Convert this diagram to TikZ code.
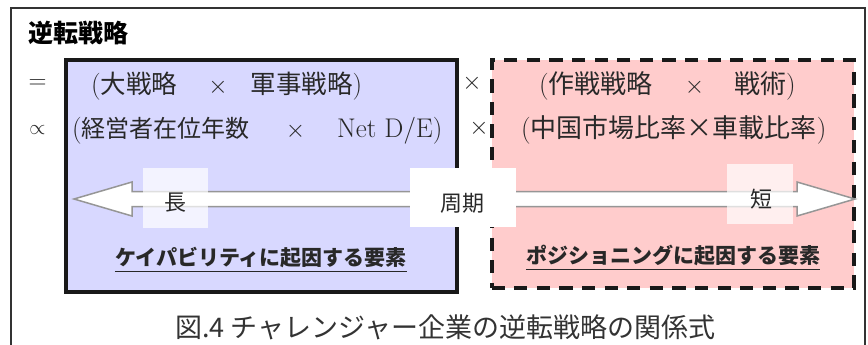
\documentclass[tikz,border=0pt]{standalone}
\usepackage{fontspec}
\newfontfamily\jp{Noto Sans CJK JP}
\definecolor{lav}{RGB}{216,216,255}
\definecolor{pinkf}{RGB}{255,204,204}
\definecolor{txtc}{RGB}{40,40,40}
\definecolor{arrowc}{RGB}{150,150,150}
\newcommand{\J}[2]{{\jp\fontsize{#1}{#1}\selectfont #2}}
\newcommand{\Lt}[1]{{\fontsize{27}{30}\selectfont #1}}
\newcommand{\Tm}{{\fontsize{24}{28}\selectfont$\times$}}
\begin{document}
\begin{tikzpicture}[x=1pt,y=-1pt,
  txt/.style={inner sep=0pt, text=txtc, anchor=base west},
  lbl/.style={inner sep=0pt, text=txtc, font=\jp\bfseries\fontsize{21}{26}\selectfont},
  capbox/.style={draw=black!90, line width=4pt, fill=lav, inner sep=0pt},
  posbox/.style={draw=black!90, line width=4pt, fill=pinkf, inner sep=0pt, dash pattern=on 13.3pt off 9.3pt},
  tagbox/.style={fill=white, inner sep=0pt},
  tagtxt/.style={inner sep=0pt, text=txtc, font=\jp\fontsize{22}{26}\selectfont}]
\useasboundingbox (0,0) rectangle (868,345);
% outer frame
\draw[line width=2pt, black!80] (11,352) -- (11,8) -- (865,8) -- (865,352);
\node[inner sep=0pt, text=black, font=\jp\bfseries\fontsize{25}{30}\selectfont] (title) at (78,33) {逆転戦略};
% boxes
\node[capbox, minimum width=391pt, minimum height=231.5pt] (cap) at (261.5,176.25) {};
\node[posbox, minimum width=362.5pt, minimum height=227.5pt] (pos) at (672.75,173.75) {};
% rows
\node[inner sep=0pt, text=txtc, font=\fontsize{24}{28}\selectfont] (eq) at (37.5,84.5) {$=$};
\node[inner sep=0pt, text=txtc, font=\fontsize{22}{28}\selectfont] (prop) at (37.5,130) {$\propto$};
\node[txt] (r1a) at (91,93)
  {\Lt{(}\J{25.5}{大戦略}\hspace{31pt}\Tm\hspace{23pt}\J{25.5}{軍事戦略}\Lt{)}};
\node[txt] (r2a) at (72,137.5)
  {\Lt{(}\J{24}{経営者在位年数}\hspace{36pt}\Tm\hspace{32pt}\Lt{Net D/E)}};
\node[txt, anchor=center, font=\fontsize{27}{30}\selectfont] (x1) at (472,83) {$\times$};
\node[txt, anchor=center, font=\fontsize{27}{30}\selectfont] (x2) at (479,128) {$\times$};
\node[txt] (r1b) at (539,93)
  {\Lt{(}\J{26}{作戦戦略}\hspace{32pt}\Tm\hspace{30pt}\J{26}{戦術}\Lt{)}};
\node[txt] (r2b) at (521,137.5)
  {\Lt{(}\J{26}{中国市場比率×車載比率}\Lt{)}};
% arrow
\draw[line width=1.5pt, draw=arrowc, fill=white, line join=miter]
  (74,199) -- (132,182) -- (132,191.5) -- (797,191.5) -- (797,182) -- (855,199)
  -- (797,216) -- (797,206.5) -- (132,206.5) -- (132,216) -- cycle;
% tags
\node[tagbox, fill opacity=0.7, minimum width=65pt, minimum height=60pt] (longb) at (175.5,198) {};
\node[tagbox, fill opacity=0.7, minimum width=66pt, minimum height=60pt] (shortb) at (760,194) {};
\node[tagbox, minimum width=106pt, minimum height=59pt] (cycb) at (463,197.5) {};
\node[tagtxt] (long) at (175.5,203) {長};
\node[tagtxt] (short) at (761,199) {短};
\node[tagtxt] (cyc) at (462,203) {周期};
% labels
\node[lbl] (capl) at (261,257) {ケイパビリティに起因する要素};
\node[lbl] (posl) at (673,255) {ポジショニングに起因する要素};
\draw[line width=1.5pt, txtc] ([yshift=-4pt]capl.south west) -- ([yshift=-4pt]capl.south east);
\draw[line width=1.5pt, txtc] ([yshift=-4pt]posl.south west) -- ([yshift=-4pt]posl.south east);
% caption
\node[inner sep=0pt, anchor=base west, text=black!80, font=\jp\fontsize{27}{30}\selectfont] (caption) at (175,337) {図.4 チャレンジャー企業の逆転戦略の関係式};
\end{tikzpicture}
\end{document}
